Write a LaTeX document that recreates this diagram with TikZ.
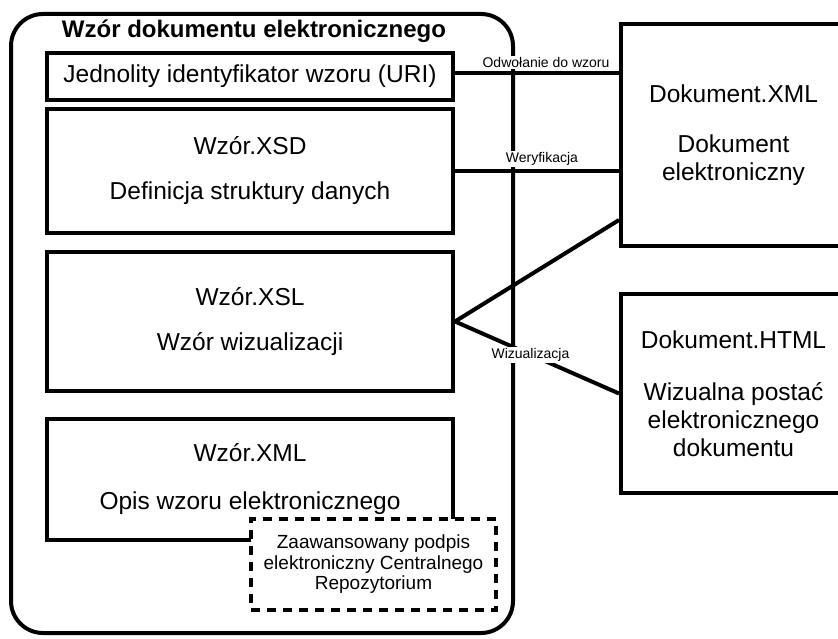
\documentclass[tikz,border=0pt]{standalone}
\usepackage{fontspec}
\setmainfont{Liberation Sans}
\usepackage{tikz}
\usetikzlibrary{positioning}

\begin{document}
\begin{tikzpicture}[
    x=1pt, y=-1pt,
    box/.style    ={draw, rectangle, line width=4pt, align=center, inner sep=0pt,
                    font=\fontsize{24.5}{28}\selectfont},
    wzor/.style   ={box, minimum width=406pt},
    dok/.style    ={box, minimum width=225pt},
    sig/.style    ={box, fill=white, dash pattern=on 9pt off 7pt,
                    font=\fontsize{19}{20.5}\selectfont},
    frame/.style  ={draw, line width=4pt, rounded corners=32pt, inner sep=0pt},
    link/.style   ={line width=4pt},
    lbl/.style    ={fill=white, inner sep=1.5pt, font=\fontsize{14}{16}\selectfont},
]
\useasboundingbox (0,0) rectangle (838,639);
\clip (0,0) rectangle (838,639);

% template frame
\node[frame, minimum width=502pt, minimum height=619pt] (tpl) at (262,323.5) {};
\node[font=\fontsize{24}{28}\selectfont\bfseries, anchor=base] (title) at (254,38)
    {Wzór dokumentu elektronicznego};

\node[wzor, minimum height=47pt]  (uri) at (250,76.5)  {Jednolity identyfikator wzoru (URI)};
\node[wzor, minimum height=124pt] (xsd) at (250,171)   {Wzór.XSD\\[17pt] Definicja struktury danych};
\node[wzor, minimum height=139pt] (xsl) at (250,321.5) {Wzór.XSL\\[17pt] Wzór wizualizacji};
\node[wzor, minimum height=121pt] (xml) at (250,479.5) {Wzór.XML\\[20pt] Opis wzoru elektronicznego};
\node[sig, minimum width=245pt, minimum height=91pt] (podpis) at (373.5,564.5)
    {Zaawansowany podpis\\ elektroniczny Centralnego\\ Repozytorium};

% documents
\node[dok, minimum height=222pt] (dxml)  at (733.5,135)   {Dokument.XML\\[22pt] Dokument\\ elektroniczny};
\node[dok, minimum height=199pt] (dhtml) at (733.5,393.5) {Dokument.HTML\\[24pt] Wizualna postać\\ elektronicznego\\ dokumentu};

\draw[link] ([yshift=3pt]uri.east) -- ([yshift=3pt]uri.east -| dxml.west)
    node[lbl, pos=0.555, anchor=south, yshift=2pt] (odw) {Odwołanie do wzoru};
\draw[link] (xsd.east) -- (xsd.east -| dxml.west)
    node[lbl, pos=0.53, anchor=south, yshift=2pt] (wer) {Weryfikacja};
\draw[link] ([yshift=28pt]dxml.south west) -- (xsl.east) -- (dhtml.west)
    node[lbl, pos=0.46] (wiz) {Wizualizacja};

\end{tikzpicture}
\end{document}
